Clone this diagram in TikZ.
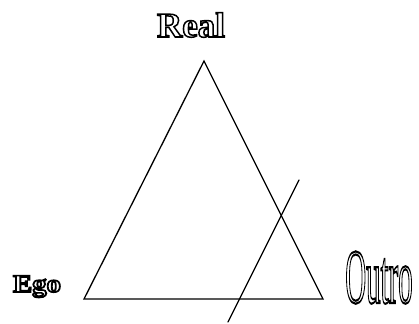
\documentclass[tikz,border=0pt]{standalone}
\usepackage{fontspec}
\setmainfont{Liberation Serif}
\newcommand{\outlinetext}[2]{\special{pdf:literal direct 1 Tr #1 w}#2\special{pdf:literal direct 0 Tr}}
\begin{document}
\begin{tikzpicture}[x=1pt,y=-1pt,
  edge/.style={line width=1.3pt, line cap=round},
  lbl/.style={inner sep=0pt, anchor=base, font=\bfseries}]
\useasboundingbox (0,0) rectangle (419,323);
\coordinate (A) at (204,61);
\coordinate (B) at (84,299);
\coordinate (C) at (323,299);
\coordinate (P) at (299,180);
\coordinate (Q) at (228,322);
\draw[edge, line join=miter] (A) -- (B) -- (C) -- cycle;
\draw[edge] (P) -- (Q);
\node[lbl, font=\fontsize{35}{35}\selectfont\bfseries] (real) at (191,37) {\outlinetext{1.5}{Real}};
\node[lbl, font=\fontsize{25}{25}\selectfont\bfseries, xscale=1.15] (ego) at (37,292) {\outlinetext{1.6}{Ego}};
\node[lbl, font=\fontsize{78}{78}\selectfont, xscale=0.37] (outro) at (379,303) {\outlinetext{2.2}{Outro}};
\end{tikzpicture}
\end{document}
